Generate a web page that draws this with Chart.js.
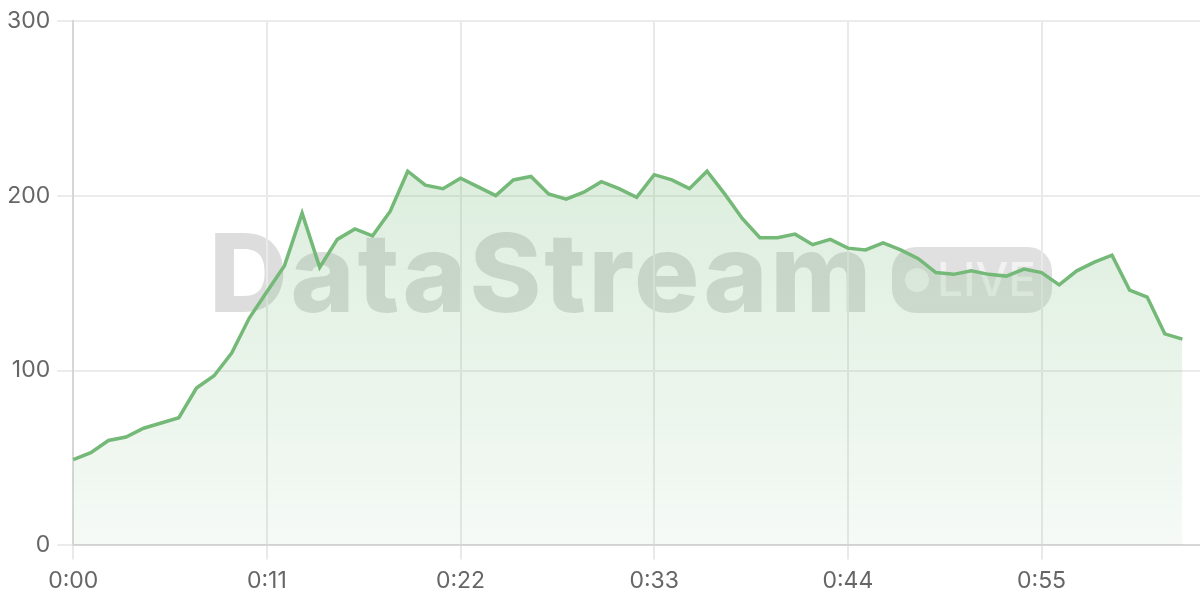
<!DOCTYPE html>
<html>
<head>
<meta charset="utf-8">
<script src="https://cdn.jsdelivr.net/npm/chart.js@4/dist/chart.umd.min.js"></script>
<style>
  html, body { margin: 0; padding: 0; background: #fff; overflow: hidden; }
  #wrap { position: relative; width: 1200px; height: 600px; overflow: hidden; }
  #wm { position: absolute; left: 0; top: 0; width: 1200px; height: 600px; z-index: 0; pointer-events: none; font-family: Inter, "Noto Sans", sans-serif; }
  #wmText { position: absolute; left: 209px; top: 218px; font-size: 109px; font-weight: 800; line-height: 1; letter-spacing: 2.8px; color: rgba(0,0,0,0.135); white-space: nowrap; }
  #wmBadge { position: absolute; left: 892px; top: 247px; width: 160px; height: 66px; border-radius: 24px; background: rgba(0,0,0,0.12); }
  #wmDot { position: absolute; left: 13px; top: 21px; width: 24px; height: 24px; border-radius: 50%; background: rgba(255,255,255,0.6); }
  #wmLive { position: absolute; left: 45px; top: 7px; font-size: 46px; font-weight: 500; line-height: 1.1; color: rgba(255,255,255,0.6); }
  canvas { position: absolute; left: 0; top: 0; z-index: 1; }
</style>
</head>
<body>
<div id="wrap">
  <div id="wm">
    <div id="wmText">DataStream</div>
    <div id="wmBadge"><div id="wmDot"></div><div id="wmLive">LIVE</div></div>
  </div>
  <canvas id="c" width="1208" height="603"></canvas>
</div>
<script>
// Time labels (one per second), 0:00 .. 1:04
const timeLabels = [];
for (let s = 0; s <= 64; s++) {
  timeLabels.push(Math.floor(s / 60) + ':' + String(s % 60).padStart(2, '0'));
}
const tickEvery = 11;
const yTicks = [0, 100, 200, 300];

const throughput = [
  49, 53, 60, 62, 67, 70, 73, 90, 97, 110,
  130, 145, 160, 190, 159, 175, 181, 177, 191, 214,
  206, 204, 210, 205, 200, 209, 211, 201, 198, 202,
  208, 204, 199, 212, 209, 204, 214, 201, 187, 176,
  176, 178, 172, 175, 170, 169, 173, 169, 164, 156,
  155, 157, 155, 154, 158, 156, 149, 157, 162, 166,
  146, 142, 121, 118
];

const lineColor = 'rgb(116,185,120)';
const ctx = document.getElementById('c').getContext('2d');

new Chart(ctx, {
  type: 'line',
  data: {
    labels: timeLabels,
    datasets: [{
      data: throughput,
      borderColor: lineColor,
      borderWidth: 3.5,
      pointRadius: 0,
      tension: 0,
      fill: 'origin',
      backgroundColor: (c) => {
        const area = c.chart.chartArea;
        if (!area) return 'rgba(116,185,120,0.2)';
        const g = c.chart.ctx.createLinearGradient(0, area.top, 0, area.bottom);
        g.addColorStop(0, 'rgba(116,185,120,0.32)');
        g.addColorStop(1, 'rgba(116,185,120,0.07)');
        return g;
      }
    }]
  },
  options: {
    responsive: false,
    animation: false,
    layout: { padding: { top: 6, right: 0, left: 0, bottom: 0 } },
    plugins: { legend: { display: false }, tooltip: { enabled: false } },
    scales: {
      x: {
        type: 'category',
        offset: false,
        border: { color: '#d6d6d6', width: 2 },
        grid: {
          color: (c) => (c.index % tickEvery === 0 ? '#e9e9e9' : 'rgba(0,0,0,0)'),
          lineWidth: 2,
          tickLength: 14,
          drawTicks: true
        },
        ticks: {
          autoSkip: false,
          maxRotation: 0,
          padding: 8,
          color: '#666',
          font: { family: 'Inter, "Noto Sans", sans-serif', size: 23 },
          callback: function (v, i) { return i % tickEvery === 0 ? timeLabels[i] : ''; }
        }
      },
      y: {
        min: 0,
        max: 300,
        border: { color: '#d6d6d6', width: 2 },
        grid: { color: '#ebebeb', lineWidth: 2, tickLength: 16 },
        afterBuildTicks: (axis) => { axis.ticks = yTicks.map(v => ({ value: v })); },
        ticks: {
          padding: 7,
          color: '#666',
          font: { family: 'Inter, "Noto Sans", sans-serif', size: 23 }
        }
      }
    }
  }
});
</script>
</body>
</html>
